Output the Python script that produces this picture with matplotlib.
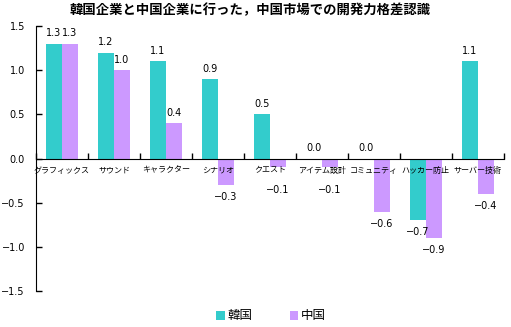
import matplotlib
matplotlib.use("Agg")
import matplotlib.pyplot as plt
import numpy as np

plt.rcParams['font.family'] = ['Noto Sans CJK JP', 'DejaVu Sans']

# ----------------------------
# Data
# ----------------------------

categories = ["グラフィックス", "サウンド", "キャラクター", "シナリオ", "クエスト",
              "アイテム設計", "コミュニティ", "ハッカー防止", "サーバー技術"]
korea = [1.3, 1.2, 1.1, 0.9, 0.5, 0.0, 0.0, -0.7, 1.1]
china = [1.3, 1.0, 0.4, -0.3, -0.1, -0.1, -0.6, -0.9, -0.4]
series_names = ["韓国", "中国"]
yticks = [-1.5, -1.0, -0.5, 0.0, 0.5, 1.0, 1.5]

teal = "#33CCCC"
purple = "#CC99FF"


def fmt(v):
    return f"{v:.1f}".replace("-", "\u2212")


# ----------------------------
# Plot
# ----------------------------

fig = plt.figure(figsize=(5.11, 3.27), dpi=100)
ax = fig.add_axes([0.0705, 0.11, 0.9155, 0.81])

x = np.arange(len(categories))
w = 0.31

ax.bar(x - w / 2, korea, w, color=teal, label=series_names[0])
ax.bar(x + w / 2, china, w, color=purple, label=series_names[1])

# value labels
for xs, vals in [(x - w / 2, korea), (x + w / 2, china)]:
    for xi, v in zip(xs, vals):
        if v >= 0:
            ax.annotate(fmt(v), (xi, v), xytext=(0, 4),
                        textcoords="offset points", ha="center", va="bottom",
                        fontsize=7, family="DejaVu Sans")
        else:
            yy = min(v, -0.22)
            ax.annotate(fmt(v), (xi, yy), xytext=(0, -5),
                        textcoords="offset points", ha="center", va="top",
                        fontsize=7, family="DejaVu Sans")

ax.set_xlim(-0.5, len(categories) - 0.5)
ax.set_ylim(-1.5, 1.5)
ax.set_yticks(yticks)
ax.set_yticklabels([fmt(t) for t in yticks], fontsize=7, family="DejaVu Sans")
ax.tick_params(axis="y", direction="in", length=4, width=1, pad=8)

# x axis at zero
ax.spines["bottom"].set_position(("data", 0))
ax.spines["top"].set_visible(False)
ax.spines["right"].set_visible(False)
ax.set_xticks(np.arange(len(categories) + 1) - 0.5)
ax.set_xticklabels([])
ax.tick_params(axis="x", which="major", direction="in", length=4, width=1)
ax.set_xticks(x, minor=True)
ax.set_xticklabels(categories, minor=True, fontsize=5.8)
ax.tick_params(axis="x", which="minor", length=0, pad=5)

fig.suptitle("韓国企業と中国企業に行った，中国市場での開発力格差認識",
             fontsize=9.6, fontweight="bold", x=0.49, y=0.99)

fig.legend(loc="center", bbox_to_anchor=(0.53, 1 - 316 / 327), ncol=2,
           frameon=False, fontsize=9, handlelength=0.7, handleheight=0.7,
           handletextpad=0.2, columnspacing=3.0)

fig.savefig("out.png", dpi=100)
